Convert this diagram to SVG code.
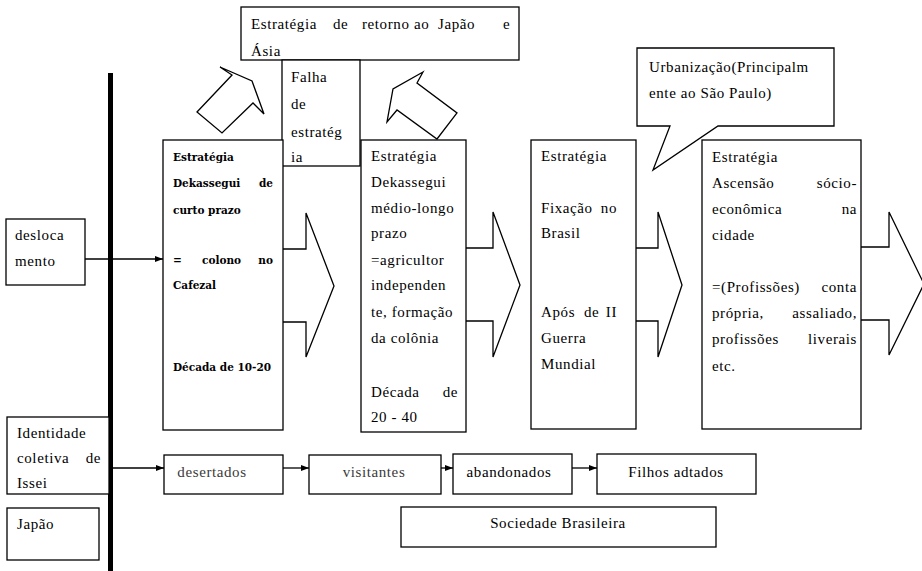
<svg xmlns="http://www.w3.org/2000/svg" width="922" height="571" viewBox="0 0 922 571">
<style>
.b{fill:#fff;stroke:#000;stroke-width:1.3}
.o{fill:#fff;stroke:#000;stroke-width:1.3;stroke-linejoin:miter}
.c{fill:none;stroke:#000;stroke-width:1.3}
text{font-family:"Liberation Serif","Times New Roman",serif;font-size:15px;letter-spacing:0.6px;fill:#000}
.s{font-family:"DejaVu Serif","Liberation Serif",serif;font-size:10.5px;font-weight:bold;letter-spacing:0}
.g{fill:#3a3a3a}
.m{text-anchor:middle}
.e{text-anchor:end}
</style>
<defs>
<marker id="ah" markerWidth="9" markerHeight="8" refX="8" refY="4" orient="auto" markerUnits="userSpaceOnUse">
<path d="M0,1 L8,4 L0,7 Z" fill="#000"/>
</marker>
</defs>
<rect x="0" y="0" width="922" height="571" fill="#fff"/>

<g id="timeline-bar">
<rect x="108" y="73" width="5" height="498" fill="#000"/>
</g>

<g id="block-arrows">
<polygon class="o" points="220,67 232,75 197,112 222,133 253,103 264,114 252,81"/>
<polygon class="o" points="423,72 393,89 387,122 397,110 437,139 457,113 417,83"/>
<polyline class="o" points="283,249 306,249 306,213 334,286 306,357 306,322 283,322"/>
<polyline class="o" points="466,248 493,248 493,212 520,285 493,357 493,321 466,321"/>
<polyline class="o" points="636,248 658,248 658,212 682,285 658,357 658,321 636,321"/>
<polyline class="o" points="861,247 889,247 889,212 924,284 889,355 889,320 861,320"/>
</g>

<g id="retorno">
<rect class="b" x="241" y="7" width="278" height="53"/>
<text y="29"><tspan x="251">Estratégia</tspan><tspan x="333">de</tspan><tspan x="362">retorno</tspan><tspan x="414">ao</tspan><tspan x="438">Japão</tspan><tspan x="503">e</tspan></text>
<text x="251" y="56">Ásia</text>
</g>

<g id="falha">
<rect class="b" x="282" y="60" width="78" height="106"/>
<text x="291" y="82">Falha</text>
<text x="291" y="109">de</text>
<text x="291" y="137">estratég</text>
<text x="291" y="162">ia</text>
</g>

<g id="urbanizacao">
<path class="b" d="M670,126 L637,126 L637,48 L834,48 L834,126 L718,126 L653,170 Z"/>
<text x="649" y="72">Urbanização(Principalm</text>
<text x="649" y="98">ente ao São Paulo)</text>
</g>

<g id="box1">
<rect class="b" x="163" y="140" width="120" height="290"/>
<text class="s" x="173" y="161">Estratégia</text>
<text class="s" x="173" y="187">Dekassegui</text>
<text class="s e" x="273" y="187">de</text>
<text class="s" x="173" y="214">curto prazo</text>
<text class="s" x="173" y="264">=</text>
<text class="s" x="202" y="264">colono</text>
<text class="s e" x="273" y="264">no</text>
<text class="s" x="173" y="289">Cafezal</text>
<text class="s" x="173" y="371">Década de 10-20</text>
</g>

<g id="box2">
<rect class="b" x="361" y="140" width="105" height="292"/>
<text x="371" y="161">Estratégia</text>
<text x="371" y="187">Dekassegui</text>
<text x="371" y="213">médio-longo</text>
<text x="371" y="238">prazo</text>
<text x="371" y="265">=agricultor</text>
<text x="371" y="290">independen</text>
<text x="371" y="317">te, formação</text>
<text x="371" y="343">da colônia</text>
<text x="371" y="397">Década</text>
<text class="e" x="458" y="397">de</text>
<text x="371" y="422">20 - 40</text>
</g>

<g id="box3">
<rect class="b" x="531" y="140" width="105" height="289"/>
<text x="541" y="161">Estratégia</text>
<text x="541" y="213">Fixação</text>
<text class="e" x="617" y="213">no</text>
<text x="541" y="238">Brasil</text>
<text x="541" y="317">Após</text>
<text x="584" y="317">de</text>
<text class="e" x="617" y="317">II</text>
<text x="541" y="343">Guerra</text>
<text x="541" y="369">Mundial</text>
</g>

<g id="box4">
<rect class="b" x="702" y="140" width="159" height="289"/>
<text x="712" y="162">Estratégia</text>
<text x="712" y="188">Ascensão</text>
<text class="e" x="857" y="188">sócio-</text>
<text x="712" y="214">econômica</text>
<text class="e" x="857" y="214">na</text>
<text x="712" y="240">cidade</text>
<text x="712" y="292">=(Profissões)</text>
<text class="e" x="857" y="292">conta</text>
<text x="712" y="318">própria,</text>
<text class="e" x="857" y="318">assaliado,</text>
<text x="712" y="344">profissões</text>
<text class="e" x="857" y="344">liverais</text>
<text x="712" y="371">etc.</text>
</g>

<g id="deslocamento">
<rect class="b" x="6" y="219" width="79" height="66"/>
<text x="15" y="240">desloca</text>
<text x="15" y="266">mento</text>
</g>

<g id="identidade">
<rect class="b" x="7" y="417" width="102" height="77"/>
<text x="17" y="438">Identidade</text>
<text x="17" y="463">coletiva</text>
<text class="e" x="101" y="463">de</text>
<text x="17" y="488">Issei</text>
</g>

<g id="japao">
<rect class="b" x="7" y="508" width="92" height="52"/>
<text x="17" y="529">Japão</text>
</g>

<g id="desertados">
<rect class="b" x="164" y="455" width="119" height="39"/>
<text class="m g" x="212" y="477">desertados</text>
</g>

<g id="visitantes">
<rect class="b" x="309" y="455" width="132" height="39"/>
<text class="m g" x="374" y="477">visitantes</text>
</g>

<g id="abandonados">
<rect class="b" x="453" y="454" width="119" height="40"/>
<text class="m" x="509" y="477">abandonados</text>
</g>

<g id="filhos">
<rect class="b" x="597" y="454" width="159" height="40"/>
<text class="m" x="676" y="477">Filhos adtados</text>
</g>

<g id="sociedade">
<rect class="b" x="401" y="507" width="315" height="40"/>
<text class="m" x="558" y="528">Sociedade Brasileira</text>
</g>

<g id="connectors">
<line class="c" x1="85" y1="259" x2="163" y2="259" marker-end="url(#ah)"/>
<line class="c" x1="113" y1="468" x2="164" y2="468" marker-end="url(#ah)"/>
<line class="c" x1="283" y1="468" x2="309" y2="468" marker-end="url(#ah)"/>
<line class="c" x1="441" y1="468" x2="453" y2="468" marker-end="url(#ah)"/>
<line class="c" x1="572" y1="468" x2="597" y2="468" marker-end="url(#ah)"/>
</g>
</svg>
